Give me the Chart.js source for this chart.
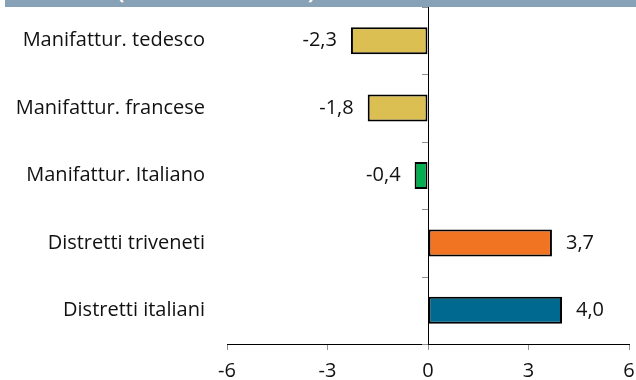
<!DOCTYPE html>
<html>
<head>
<meta charset="utf-8">
<script src="https://cdn.jsdelivr.net/npm/chart.js@4"></script>
<style>
  html, body { margin: 0; padding: 0; background: #fff; }
  #wrap { position: relative; width: 636px; height: 380px; overflow: hidden; }
  #hdr { position: absolute; left: 5px; top: 0; width: 631px; height: 7px; background: #87A1B6; overflow: hidden; z-index: 2; }
  #hdr span { position: absolute; left: 8px; top: -22px; color: #fff; font: bold 20px "Open Sans", sans-serif; white-space: nowrap; }
  canvas { position: absolute; left: 0; top: 0; }
</style>
</head>
<body>
<div id="wrap">
  <div id="hdr"><span>confronto (var. % tendenziale)</span></div>
  <canvas id="c" width="636" height="380"></canvas>
</div>
<script>
const categories = ["Manifattur. tedesco", "Manifattur. francese", "Manifattur. Italiano", "Distretti triveneti", "Distretti italiani"];
const values = [-2.3, -1.8, -0.4, 3.7, 4.0];
const barColors = ["#DCBF52", "#DCBF52", "#00B050", "#F07422", "#006990"];
const xTicks = [-6, -3, 0, 3, 6];

const FONT = '"Open Sans", sans-serif';

const extras = {
  id: 'extras',
  afterDatasetsDraw(chart) {
    const ctx = chart.ctx;
    const y = chart.scales.y;
    const x0 = chart.scales.x.getPixelForValue(0);
    ctx.save();
    ctx.strokeStyle = '#909090';
    ctx.lineWidth = 1;
    const n = categories.length;
    const step = n > 1 ? (y.getPixelForValue(1) - y.getPixelForValue(0)) : (y.bottom - y.top);
    for (let i = 0; i <= n; i++) {
      const py = Math.round(y.getPixelForValue(i) - step / 2) + 0.5;
      ctx.beginPath();
      ctx.moveTo(x0 - 6, py);
      ctx.lineTo(x0, py);
      ctx.stroke();
    }
    const meta = chart.getDatasetMeta(0);
    ctx.fillStyle = '#111';
    ctx.font = '20px ' + FONT;
    ctx.textBaseline = 'middle';
    meta.data.forEach((bar, i) => {
      const v = values[i];
      const txt = v.toFixed(1).replace('.', ',');
      if (v < 0) {
        ctx.textAlign = 'right';
        ctx.fillText(txt, bar.x - 14, bar.y);
      } else {
        ctx.textAlign = 'left';
        ctx.fillText(txt, bar.x + 14, bar.y);
      }
    });
    ctx.restore();
  }
};

new Chart(document.getElementById('c'), {
  type: 'bar',
  data: {
    labels: categories,
    datasets: [{
      data: values,
      backgroundColor: barColors,
      borderColor: '#000',
      borderWidth: 2,
      borderSkipped: false,
      categoryPercentage: 1,
      barPercentage: 0.4
    }]
  },
  options: {
    indexAxis: 'y',
    responsive: false,
    animation: false,
    devicePixelRatio: 1,
    layout: { padding: { top: 7, right: 7, left: 0, bottom: 0 } },
    plugins: { legend: { display: false }, tooltip: { enabled: false } },
    scales: {
      x: {
        min: -6, max: 6,
        afterBuildTicks: (s) => { s.ticks = xTicks.map(v => ({ value: v })); },
        afterFit: (s) => { s.height = 36; s.paddingLeft = 0; s.paddingRight = 0; },
        border: { display: true, color: '#000', width: 1 },
        grid: {
          display: true,
          drawOnChartArea: true,
          drawTicks: true,
          tickLength: 6,
          tickColor: '#909090',
          color: (c) => (c.tick && c.tick.value === 0) ? '#000' : 'rgba(0,0,0,0)',
          lineWidth: 1
        },
        ticks: {
          color: '#111',
          font: { family: FONT, size: 20 },
          padding: 9,
          maxRotation: 0,
          callback: (v) => String(v)
        }
      },
      y: {
        afterFit: (s) => { s.width = 227; s.paddingTop = 0; s.paddingBottom = 0; },
        border: { display: false },
        grid: { display: false, drawTicks: false },
        ticks: {
          color: '#111',
          font: { family: FONT, size: 20 },
          padding: 22,
          crossAlign: 'near'
        }
      }
    }
  },
  plugins: [extras]
});
</script>
</body>
</html>
